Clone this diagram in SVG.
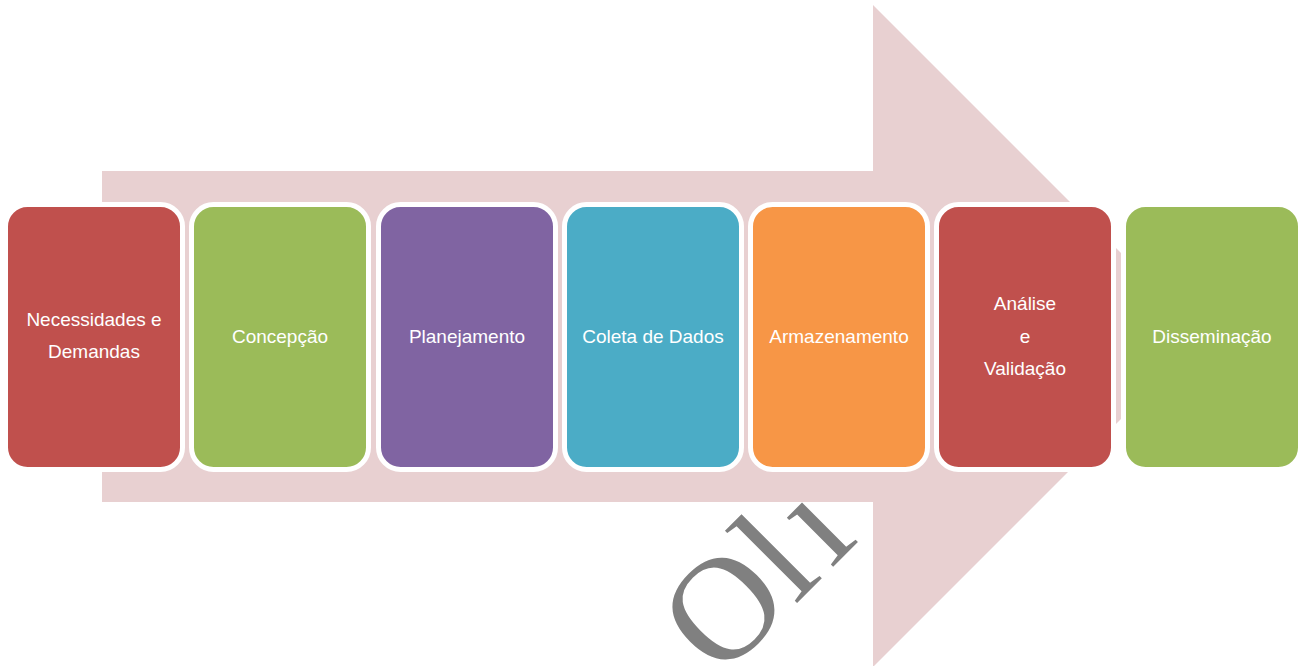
<svg xmlns="http://www.w3.org/2000/svg" width="1305" height="666" viewBox="0 0 1305 666">
<style>
.box{stroke:#fff;stroke-width:5}
.lbl{font-family:"Liberation Sans",Arial,sans-serif;font-size:19px;fill:#fff;text-anchor:middle}
.wm{font-family:"Liberation Serif","Times New Roman",serif;font-size:147px;fill:#808080}
</style>
<rect width="1305" height="666" fill="#fff"/>
<text class="wm" x="720" y="680" transform="rotate(-45 720 680)">Ol<tspan dx="10">i</tspan></text>
<g id="connectors">
<polygon id="arrow" points="102,171 873,171 873,5 1204,336 873,667 873,502 102,502" fill="#E8D0D1"/>
</g>
<g id="n1"><rect class="box" x="5.5" y="204.5" width="177" height="265" rx="22" fill="#C0504D"/>
<text class="lbl" x="94" y="326">Necessidades e</text><text class="lbl" x="94" y="358">Demandas</text></g>
<g id="n2"><rect class="box" x="191.5" y="204.5" width="177" height="265" rx="22" fill="#9BBB59"/>
<text class="lbl" x="280" y="343">Concepção</text></g>
<g id="n3"><rect class="box" x="378.5" y="204.5" width="177" height="265" rx="22" fill="#8064A2"/>
<text class="lbl" x="467" y="343">Planejamento</text></g>
<g id="n4"><rect class="box" x="564.5" y="204.5" width="177" height="265" rx="22" fill="#4BACC6"/>
<text class="lbl" x="653" y="343">Coleta de Dados</text></g>
<g id="n5"><rect class="box" x="750.5" y="204.5" width="177" height="265" rx="22" fill="#F79646"/>
<text class="lbl" x="839" y="343">Armazenamento</text></g>
<g id="n6"><rect class="box" x="936.5" y="204.5" width="177" height="265" rx="22" fill="#C0504D"/>
<text class="lbl" x="1025" y="310">Análise</text><text class="lbl" x="1025" y="343">e</text><text class="lbl" x="1025" y="375">Validação</text></g>
<g id="n7"><rect class="box" x="1123.5" y="204.5" width="177" height="265" rx="22" fill="#9BBB59"/>
<text class="lbl" x="1212" y="343">Disseminação</text></g>
</svg>
